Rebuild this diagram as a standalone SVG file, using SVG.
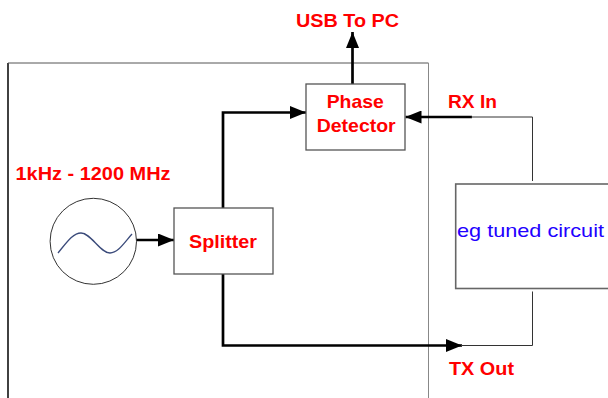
<svg xmlns="http://www.w3.org/2000/svg" width="608" height="398" viewBox="0 0 608 398">
  <defs>
    <marker id="arr" viewBox="0 0 16 13" refX="16" refY="6.5" markerWidth="16" markerHeight="13" markerUnits="userSpaceOnUse" orient="auto">
      <path d="M0,0 L16,6.5 L0,13 Z" fill="#000"/>
    </marker>
    <style>
      .lbl { font-family: "Liberation Sans", Arial, sans-serif; font-weight: bold; fill: #ff0000; }
      .box { fill: #fff; stroke: #555; stroke-width: 1.3; }
      .wire { fill: none; stroke: #000; stroke-width: 2.7; }
      .thin { fill: none; stroke: #333; stroke-width: 1; }
    </style>
  </defs>
  <rect width="608" height="398" fill="#fff"/>

  <g id="enclosure">
    <line x1="8" y1="63" x2="8" y2="398" stroke="#111" stroke-width="1.6"/>
    <line x1="8" y1="63" x2="428.5" y2="63" stroke="#555" stroke-width="1"/>
    <line x1="428.5" y1="63" x2="428.5" y2="398" stroke="#888" stroke-width="1"/>
  </g>

  <g id="connectors">
    <line class="wire" x1="352.5" y1="84" x2="352.5" y2="32" marker-end="url(#arr)"/>
    <polyline class="wire" points="223,208 223,112.5 306,112.5" marker-end="url(#arr)"/>
    <line class="wire" x1="472" y1="117" x2="405.5" y2="117" marker-end="url(#arr)"/>
    <polyline class="thin" points="471,117 532.5,117 532.5,181"/>
    <line class="wire" x1="136" y1="240" x2="174" y2="240" marker-end="url(#arr)"/>
    <polyline class="wire" points="223,274 223,345.5 462,345.5" marker-end="url(#arr)"/>
    <polyline class="thin" points="461,345.5 532.5,345.5 532.5,291.5"/>
  </g>

  <g id="usb-label">
    <text class="lbl" x="296" y="27" font-size="17.5" textLength="103" lengthAdjust="spacingAndGlyphs">USB To PC</text>
  </g>

  <g id="phase-detector">
    <rect class="box" x="306" y="84" width="99" height="66"/>
    <text class="lbl" x="326.7" y="108" font-size="18.5" textLength="57" lengthAdjust="spacingAndGlyphs">Phase</text>
    <text class="lbl" x="316.7" y="132" font-size="18.5" textLength="79" lengthAdjust="spacingAndGlyphs">Detector</text>
  </g>

  <g id="rx-label">
    <text class="lbl" x="448" y="107.5" font-size="18.5" textLength="49" lengthAdjust="spacingAndGlyphs">RX In</text>
  </g>

  <g id="oscillator">
    <text class="lbl" x="15.5" y="180" font-size="17.5" textLength="155" lengthAdjust="spacingAndGlyphs">1kHz - 1200 MHz</text>
    <ellipse cx="93.3" cy="241.3" rx="43.2" ry="43" fill="#fff" stroke="#333" stroke-width="1"/>
    <path d="M58,253 C67,242 73,233 81,233 C91,233 100,253 110,253 C118,253 124,243 132,234" fill="none" stroke="#3a4a7a" stroke-width="1.3"/>
  </g>

  <g id="splitter">
    <rect class="box" x="174" y="208" width="99" height="66"/>
    <text class="lbl" x="189" y="248" font-size="18.5" textLength="68" lengthAdjust="spacingAndGlyphs">Splitter</text>
  </g>

  <g id="tuned-circuit">
    <rect x="455.7" y="184" width="200" height="104.5" fill="#fff" stroke="#666" stroke-width="1.6"/>
    <text x="457" y="237" font-family="Liberation Sans, Arial, sans-serif" font-size="18.5" fill="#2200ff" textLength="147" lengthAdjust="spacingAndGlyphs">eg tuned circuit</text>
  </g>

  <g id="tx-label">
    <text class="lbl" x="449" y="374.5" font-size="18.5" textLength="65" lengthAdjust="spacingAndGlyphs">TX Out</text>
  </g>
</svg>
